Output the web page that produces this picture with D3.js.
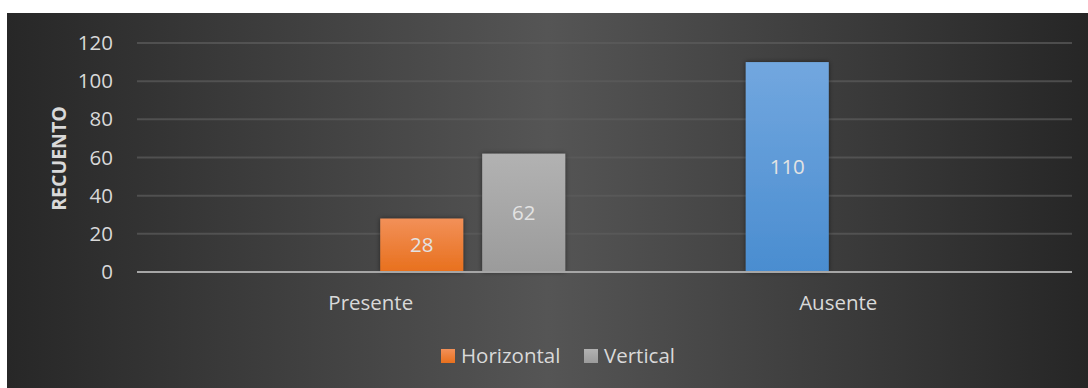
<!DOCTYPE html>
<html>
<head>
<meta charset="utf-8">
<script src="https://cdn.jsdelivr.net/npm/d3@7"></script>
<style>
  html, body { margin: 0; padding: 0; background: #fff; }
  svg { display: block; }
  text { font-family: "Open Sans", "Noto Sans", sans-serif; }
</style>
</head>
<body>
<div id="chart"></div>
<script>
// data
var categories = ['Presente', 'Ausente'];
var seriesKeys = ['serie1', 'serie2', 'Horizontal', 'Vertical'];
var legendKeys = ['Horizontal', 'Vertical'];
var values = {
    Presente: {Horizontal: 28, Vertical: 62},
    Ausente:  {serie2: 110}
};
var yTicks = [0, 20, 40, 60, 80, 100, 120];

var colors = {
    serie1:     ['#a9c46a', '#8aab45'],
    serie2:     ['#72a7df', '#4a8dd0'],
    Horizontal: ['#f29058', '#e8701d'],
    Vertical:   ['#b2b2b2', '#9b9b9b']
};

var W = 1088, H = 388;
var margin = {top: 43, right: 16, bottom: 116, left: 137};

var svg = d3.select('#chart').append('svg')
    .attr('width', W)
    .attr('height', H);

var defs = svg.append('defs');

var bg = defs.append('linearGradient').attr('id', 'bg')
    .attr('x1', 0).attr('x2', 1).attr('y1', 0).attr('y2', 0);
bg.append('stop').attr('offset', '0%').attr('stop-color', '#272727');
bg.append('stop').attr('offset', '50%').attr('stop-color', '#555555');
bg.append('stop').attr('offset', '100%').attr('stop-color', '#262626');

seriesKeys.forEach(function(k) {
    var g = defs.append('linearGradient').attr('id', 'grad-' + k)
        .attr('x1', 0).attr('x2', 0).attr('y1', 0).attr('y2', 1);
    g.append('stop').attr('offset', '0%').attr('stop-color', colors[k][0]);
    g.append('stop').attr('offset', '100%').attr('stop-color', colors[k][1]);
});

var shadow = defs.append('filter').attr('id', 'shadow')
    .attr('x', '-20%').attr('y', '-20%').attr('width', '140%').attr('height', '140%');
shadow.append('feDropShadow')
    .attr('dx', 0).attr('dy', 0).attr('stdDeviation', 2.5)
    .attr('flood-color', '#000').attr('flood-opacity', 0.5);

// background panel
svg.append('rect')
    .attr('x', 7).attr('y', 13)
    .attr('width', W - 7).attr('height', H - 13)
    .attr('fill', 'url(#bg)');

var innerW = W - margin.left - margin.right;
var innerH = H - margin.top - margin.bottom;

var canvas = svg.append('g')
    .attr('transform', 'translate(' + margin.left + ',' + margin.top + ')');

var x0 = d3.scaleBand()
    .domain(categories)
    .range([0, innerW]);

var x1 = d3.scaleBand()
    .domain(seriesKeys)
    .range([0, x0.bandwidth()])
    .paddingInner(0.186)
    .paddingOuter(0.385);

var y = d3.scaleLinear()
    .domain([0, 120])
    .range([innerH, 0]);

// gridlines
canvas.append('g')
    .selectAll('line')
    .data(yTicks.filter(function(t) { return t > 0; }))
    .enter().append('line')
        .attr('x1', 0)
        .attr('x2', innerW)
        .attr('y1', function(d) { return y(d); })
        .attr('y2', function(d) { return y(d); })
        .attr('stroke', '#5c5c5c')
        .attr('stroke-opacity', 0.7)
        .attr('stroke-width', 2);

// y axis labels
var yAxis = d3.axisLeft(y).tickValues(yTicks).tickSize(0).tickPadding(24);
var yg = canvas.append('g').call(yAxis);
yg.select('.domain').remove();
yg.selectAll('text')
    .attr('fill', '#d9d9d9')
    .style('font-size', '20.5px');

// bars
var rows = [];
categories.forEach(function(c) {
    seriesKeys.forEach(function(k) {
        if (values[c][k] != null) rows.push({cat: c, key: k, value: values[c][k]});
    });
});

var bars = canvas.append('g').selectAll('g.bar').data(rows)
    .enter().append('g')
        .attr('class', 'bar')
        .attr('transform', function(d) { return 'translate(' + (x0(d.cat) + x1(d.key)) + ',0)'; });

bars.append('rect')
    .attr('x', 0)
    .attr('y', function(d) { return y(d.value); })
    .attr('width', x1.bandwidth())
    .attr('height', function(d) { return y(0) - y(d.value); })
    .attr('fill', function(d) { return 'url(#grad-' + d.key + ')'; })
    .attr('filter', 'url(#shadow)');

bars.append('text')
    .attr('x', x1.bandwidth() / 2)
    .attr('y', function(d) { return (y(d.value) + y(0)) / 2; })
    .attr('dy', '0.35em')
    .attr('text-anchor', 'middle')
    .attr('fill', '#e3e3e3')
    .style('font-size', '20.5px')
    .text(function(d) { return d.value; });

// baseline
canvas.append('line')
    .attr('x1', 0).attr('x2', innerW)
    .attr('y1', y(0)).attr('y2', y(0))
    .attr('stroke', '#a6a6a6')
    .attr('stroke-width', 2);

// x axis labels
var xAxis = d3.axisBottom(x0).tickSize(0).tickPadding(23);
var xg = canvas.append('g')
    .attr('transform', 'translate(0,' + innerH + ')')
    .call(xAxis);
xg.select('.domain').remove();
xg.selectAll('text')
    .attr('fill', '#d9d9d9')
    .style('font-size', '20.5px');

// y title
svg.append('text')
    .attr('transform', 'translate(66,' + (margin.top + innerH / 2 + 1) + ') rotate(-90)')
    .attr('text-anchor', 'middle')
    .attr('fill', '#d9d9d9')
    .style('font-size', '19.5px')
    .style('font-weight', 'bold')
    .text('RECUENTO');

// legend
var legend = svg.append('g').attr('transform', 'translate(441,349)');
var legendX = [0, 143];
var items = legend.selectAll('g').data(legendKeys)
    .enter().append('g')
        .attr('transform', function(d, i) { return 'translate(' + legendX[i] + ',0)'; });
items.append('rect')
    .attr('width', 14).attr('height', 14)
    .attr('fill', function(d) { return 'url(#grad-' + d + ')'; });
items.append('text')
    .attr('x', 20)
    .attr('y', 7)
    .attr('dy', '0.35em')
    .attr('fill', '#d9d9d9')
    .style('font-size', '20.5px')
    .text(function(d) { return d; });
</script>
</body>
</html>
